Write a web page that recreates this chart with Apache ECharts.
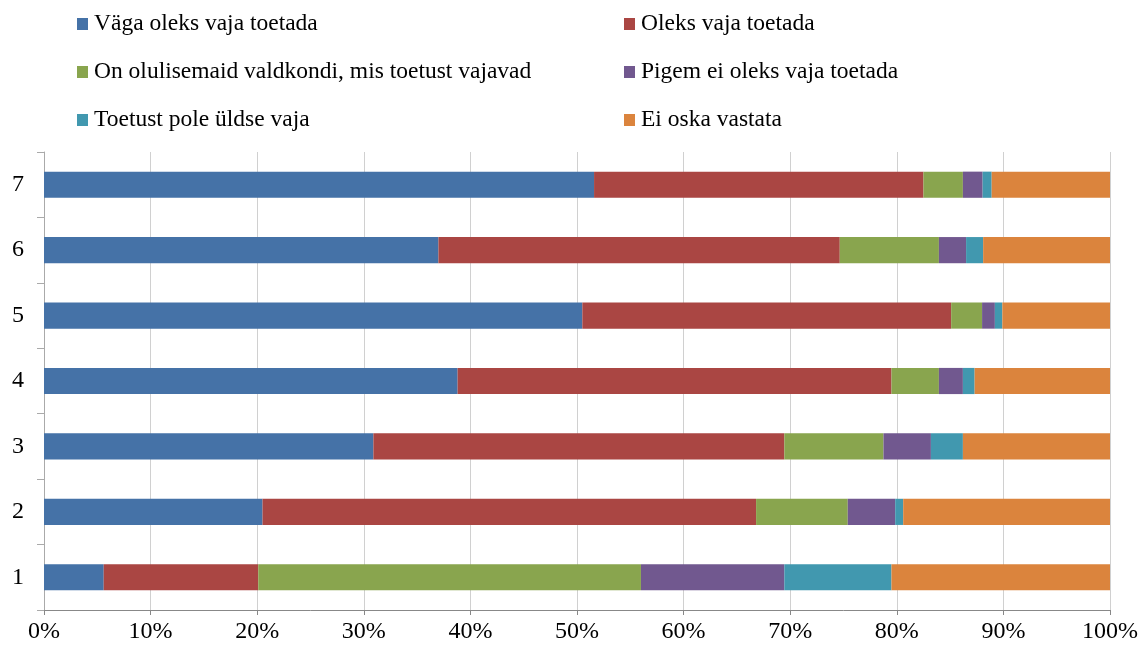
<!DOCTYPE html>
<html>
<head>
<meta charset="utf-8">
<script src="https://cdn.jsdelivr.net/npm/echarts@6/dist/echarts.min.js"></script>
<style>html,body{margin:0;padding:0;background:#fff;}#c{width:1142px;height:650px;}</style>
</head>
<body>
<div id="c"></div>
<script>
const categories = ['1','2','3','4','5','6','7'];
const seriesNames = ['Väga oleks vaja toetada','Oleks vaja toetada','On olulisemaid valdkondi, mis toetust vajavad','Pigem ei oleks vaja toetada','Toetust pole üldse vaja','Ei oska vastata'];
const vaga    = [5.6, 20.5, 30.9, 38.8, 50.5, 37.0, 51.6];
const oleks   = [14.5, 46.3, 38.55, 40.7, 34.6, 37.65, 30.9];
const olulis  = [35.9, 8.6, 9.3, 4.45, 2.9, 9.3, 3.7];
const pigem   = [13.45, 4.45, 4.45, 2.25, 1.2, 2.55, 1.85];
const pole    = [10.05, 0.75, 3.0, 1.1, 0.7, 1.6, 0.85];
const eiOska  = [20.5, 19.4, 13.8, 12.7, 10.1, 11.9, 11.1];
const xTicks = ['0%','10%','20%','30%','40%','50%','60%','70%','80%','90%','100%'];
const colors = ['#4572A7','#AA4643','#89A54E','#71588F','#4198AF','#DB843D'];
const values = [vaga, oleks, olulis, pigem, pole, eiOska];

const font = '"Liberation Serif", "Times New Roman", serif';
const chart = echarts.init(document.getElementById('c'));
const legendCommon = {
  orient: 'vertical', itemWidth: 11, itemHeight: 12, itemGap: 24,
  icon: 'rect', selectedMode: false,
  textStyle: {fontFamily: font, fontSize: 23.5, color: '#000', lineHeight: 24, padding: [0,0,0,1]}
};
chart.setOption({
  animation: false,
  color: colors,
  legend: [
    Object.assign({left: 77, top: 12, padding: 0, data: [seriesNames[0], seriesNames[2], seriesNames[4]]}, legendCommon),
    Object.assign({left: 624, top: 12, padding: 0, data: [seriesNames[1], seriesNames[3], seriesNames[5]]}, legendCommon)
  ],
  grid: {left: 44, right: 32, top: 152, bottom: 40, containLabel: false},
  xAxis: {
    type: 'value', min: 0, max: 100, interval: 10,
    axisLine: {show: true, lineStyle: {color: '#888'}},
    axisTick: {show: true, length: 5, lineStyle: {color: '#888'}},
    splitLine: {show: true, lineStyle: {color: '#d0d0d0'}},
    axisLabel: {formatter: (v) => xTicks[Math.round(v/10)], fontFamily: font, fontSize: 24, color: '#000', margin: 10}
  },
  yAxis: {
    type: 'category', data: categories,
    axisLine: {show: true, lineStyle: {color: '#aaa'}},
    axisTick: {show: true, length: 7, lineStyle: {color: '#aaa'}},
    axisLabel: {fontFamily: font, fontSize: 24, color: '#000', margin: 20}
  },
  series: seriesNames.map((n, i) => ({
    name: n, type: 'bar', stack: 'total', data: values[i],
    barCategoryGap: '60%',
    itemStyle: {color: colors[i]}
  }))
});
</script>
</body>
</html>
